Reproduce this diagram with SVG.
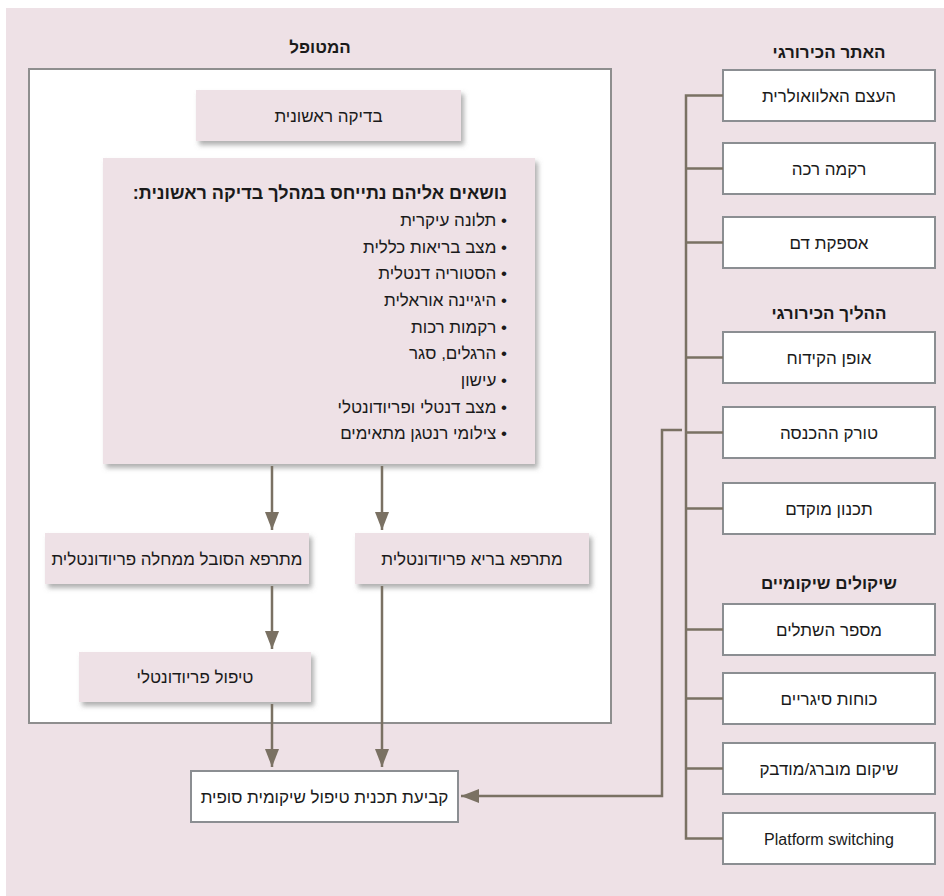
<svg xmlns="http://www.w3.org/2000/svg" width="944" height="896" viewBox="0 0 944 896">
<style>
  .he { font-family: "Liberation Sans", "DejaVu Sans", sans-serif; direction: rtl; unicode-bidi: embed; fill: #1a1a1a; }
  .lbl { font-size: 17px; text-anchor: middle; }
  .hdr { font-size: 17px; font-weight: bold; text-anchor: middle; }
  .item { font-size: 17px; text-anchor: start; }
  .pbox { fill: #eee1e6; filter: url(#sh); }
  .wbox { fill: #ffffff; stroke: #8b8e92; stroke-width: 2; }
  .conn { fill: none; stroke: #7a7163; stroke-width: 2.5; }
</style>
<defs>
  <filter id="sh" x="-10%" y="-20%" width="130%" height="150%">
    <feDropShadow dx="3" dy="4" stdDeviation="2.5" flood-color="#6e6e6e" flood-opacity="0.55"/>
  </filter>
  <marker id="arr" markerUnits="userSpaceOnUse" markerWidth="18" markerHeight="14" refX="18" refY="7" orient="auto">
    <path d="M0,0 L18,7 L0,14 Z" fill="#7a7163"/>
  </marker>
</defs>
<rect x="6" y="8" width="938" height="888" fill="#eee1e6"/>

<g id="patient-frame">
  <rect x="29" y="69" width="582" height="654" fill="#ffffff" stroke="#8e8e8e" stroke-width="2"/>
  <text class="he hdr" x="320" y="53">המטופל</text>
</g>

<g id="initial-exam">
  <rect class="pbox" x="196" y="90" width="265" height="51"/>
  <text class="he lbl" x="328.5" y="121.5">בדיקה ראשונית</text>
</g>

<g id="topics">
  <rect class="pbox" x="103" y="158" width="432" height="306"/>
  <text class="he" x="507" y="199" style="font-size:18px;font-weight:bold;text-anchor:start">נושאים אליהם נתייחס במהלך בדיקה ראשונית:</text>
  <text class="he item" x="507" y="226">• תלונה עיקרית</text>
  <text class="he item" x="507" y="252.7">• מצב בריאות כללית</text>
  <text class="he item" x="507" y="279.3">• הסטוריה דנטלית</text>
  <text class="he item" x="507" y="306">• היגיינה אוראלית</text>
  <text class="he item" x="507" y="332.7">• רקמות רכות</text>
  <text class="he item" x="507" y="359.3">• הרגלים, סגר</text>
  <text class="he item" x="507" y="386">• עישון</text>
  <text class="he item" x="507" y="412.7">• מצב דנטלי ופריודונטלי</text>
  <text class="he item" x="507" y="439.3">• צילומי רנטגן מתאימים</text>
</g>

<g id="perio-patient">
  <rect class="pbox" x="45" y="533" width="264" height="51"/>
  <text class="he lbl" x="177" y="564.5">מתרפא הסובל ממחלה פריודונטלית</text>
</g>

<g id="healthy-patient">
  <rect class="pbox" x="355" y="533" width="234" height="51"/>
  <text class="he lbl" x="472" y="564.5">מתרפא בריא פריודונטלית</text>
</g>

<g id="perio-treatment">
  <rect class="pbox" x="79" y="652" width="232" height="50"/>
  <text class="he lbl" x="195" y="683">טיפול פריודונטלי</text>
</g>

<g id="final-plan">
  <rect class="wbox" x="191" y="771" width="267" height="51"/>
  <text class="he lbl" x="324.5" y="802.5">קביעת תכנית טיפול שיקומית סופית</text>
</g>

<g id="right-headers">
  <text class="he hdr" x="829" y="58">האתר הכירורגי</text>
  <text class="he hdr" x="829" y="319">ההליך הכירורגי</text>
  <text class="he hdr" x="829" y="589">שיקולים שיקומיים</text>
</g>

<g id="alveolar-bone">
  <rect class="wbox" x="723" y="70" width="212" height="51"/>
  <text class="he lbl" x="829" y="101.5">העצם האלוואולרית</text>
</g>
<g id="soft-tissue">
  <rect class="wbox" x="723" y="143" width="212" height="51"/>
  <text class="he lbl" x="829" y="174.5">רקמה רכה</text>
</g>
<g id="blood-supply">
  <rect class="wbox" x="723" y="217" width="212" height="51"/>
  <text class="he lbl" x="829" y="248.5">אספקת דם</text>
</g>
<g id="drilling">
  <rect class="wbox" x="723" y="332" width="212" height="51"/>
  <text class="he lbl" x="829" y="363.5">אופן הקידוח</text>
</g>
<g id="torque">
  <rect class="wbox" x="723" y="407" width="212" height="51"/>
  <text class="he lbl" x="829" y="438.5">טורק ההכנסה</text>
</g>
<g id="planning">
  <rect class="wbox" x="723" y="483" width="212" height="51"/>
  <text class="he lbl" x="829" y="514.5">תכנון מוקדם</text>
</g>
<g id="implant-count">
  <rect class="wbox" x="723" y="604" width="212" height="51"/>
  <text class="he lbl" x="829" y="635.5">מספר השתלים</text>
</g>
<g id="sagittal-forces">
  <rect class="wbox" x="723" y="673" width="212" height="51"/>
  <text class="he lbl" x="829" y="704.5">כוחות סיגריים</text>
</g>
<g id="screw-cement">
  <rect class="wbox" x="723" y="743" width="212" height="51"/>
  <text class="he lbl" x="829" y="774.5">שיקום מוברג/מודבק</text>
</g>
<g id="platform-switching">
  <rect class="wbox" x="723" y="813" width="212" height="51"/>
  <text x="829" y="844.5" style="font-family:'Liberation Sans','DejaVu Sans',sans-serif;font-size:16px;text-anchor:middle;fill:#1a1a1a">Platform switching</text>
</g>

<g id="connectors">
  <path class="conn" d="M272,466 V530" marker-end="url(#arr)"/>
  <path class="conn" d="M382,466 V530" marker-end="url(#arr)"/>
  <path class="conn" d="M272,586 V649" marker-end="url(#arr)"/>
  <path class="conn" d="M272,704 V767" marker-end="url(#arr)"/>
  <path class="conn" d="M382,586 V767" marker-end="url(#arr)"/>
  <path class="conn" d="M723,95.5 H686 V838.5 H723"/>
  <path class="conn" d="M686,168.5 H723 M686,242.5 H723 M686,357.5 H723 M686,432.5 H723 M686,508.5 H723 M686,629.5 H723 M686,698.5 H723 M686,768.5 H723"/>
  <path class="conn" d="M682,430 H662 V796 H461" marker-end="url(#arr)"/>
</g>
</svg>
